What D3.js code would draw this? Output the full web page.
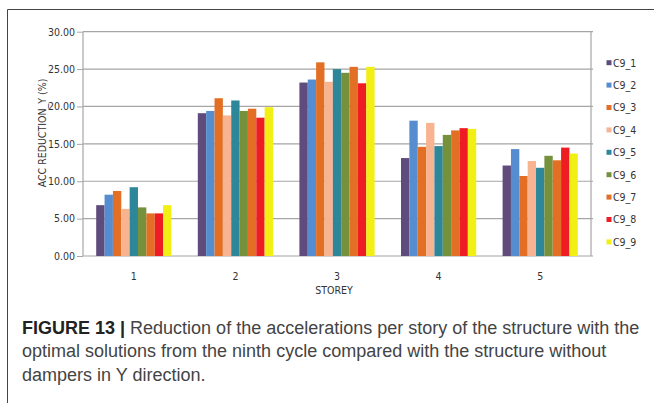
<!DOCTYPE html>
<html>
<head>
<meta charset="utf-8">
<script src="https://cdn.jsdelivr.net/npm/d3@7"></script>
<style>
  html, body { margin: 0; padding: 0; background: #fff; }
  svg { display: block; }
  .tick text { font-family: "Liberation Sans Narrow", "DejaVu Sans Condensed", sans-serif; }
</style>
</head>
<body>
<svg id="chart" width="654" height="403"></svg>
<script>
const storeys = ["1", "2", "3", "4", "5"];
const seriesNames = ["C9_1", "C9_2", "C9_3", "C9_4", "C9_5", "C9_6", "C9_7", "C9_8", "C9_9"];
// one array per series, values for storey 1..5
const c9_1 = [6.8, 19.1, 23.2, 13.1, 12.1];
const c9_2 = [8.2, 19.4, 23.6, 18.1, 14.3];
const c9_3 = [8.7, 21.1, 25.9, 14.6, 10.7];
const c9_4 = [6.3, 18.8, 23.3, 17.8, 12.7];
const c9_5 = [9.2, 20.8, 25.0, 14.7, 11.8];
const c9_6 = [6.5, 19.4, 24.5, 16.2, 13.4];
const c9_7 = [5.7, 19.7, 25.3, 16.8, 12.8];
const c9_8 = [5.7, 18.5, 23.1, 17.1, 14.5];
const c9_9 = [6.8, 19.9, 25.3, 17.0, 13.7];
const seriesValues = [c9_1, c9_2, c9_3, c9_4, c9_5, c9_6, c9_7, c9_8, c9_9];
const seriesColors = ["#5f4b7c", "#568dd0", "#e36f25", "#f8b490", "#2e8799", "#76913c", "#e36f25", "#ee1d24", "#f2ef14"];
const yTicks = [0, 5, 10, 15, 20, 25, 30];

const svg = d3.select("#chart");
const plot = { left: 83, right: 591, top: 31.7, bottom: 256 };
const narrow = `"Liberation Sans Narrow", "DejaVu Sans Condensed", sans-serif`;

// figure frame (only top and left edges visible)
svg.append("path")
    .attr("d", "M7.5,403 V9.5 H654")
    .attr("fill", "none")
    .attr("stroke", "#444")
    .attr("stroke-width", 1);

const x0 = d3.scaleBand(storeys, [plot.left, plot.right])
    .paddingInner(0.26)
    .paddingOuter(0.13);
const x1 = d3.scaleBand(seriesNames, [0, x0.bandwidth()]);
const y = d3.scaleLinear([0, 30], [plot.bottom, plot.top]);

// gridlines + y axis
const yAxis = svg.append("g")
    .attr("transform", `translate(${plot.left},0)`)
    .call(d3.axisLeft(y).tickValues(yTicks).tickFormat(d3.format(".2f")).tickSize(6).tickPadding(2));
yAxis.select(".domain").remove();
yAxis.selectAll(".tick line").attr("stroke", "#a6a6a6");
yAxis.selectAll(".tick text").attr("fill", "#333").attr("font-size", 10.5);

svg.append("g")
    .selectAll("line")
    .data(yTicks)
    .join("line")
    .attr("x1", plot.left)
    .attr("x2", plot.right + 2)
    .attr("y1", d => y(d))
    .attr("y2", d => y(d))
    .attr("stroke", "#a6a6a6")
    .attr("stroke-width", 1.2);

// plot frame verticals
svg.append("line")
    .attr("x1", plot.left).attr("x2", plot.left)
    .attr("y1", plot.top).attr("y2", plot.bottom)
    .attr("stroke", "#a6a6a6").attr("stroke-width", 1.2);
svg.append("line")
    .attr("x1", plot.right).attr("x2", plot.right)
    .attr("y1", plot.top).attr("y2", plot.bottom)
    .attr("stroke", "#a6a6a6").attr("stroke-width", 1.2);

// bars
const groups = svg.append("g")
    .selectAll("g")
    .data(storeys)
    .join("g")
    .attr("transform", d => `translate(${x0(d)},0)`);

groups.selectAll("rect")
    .data((s, i) => seriesNames.map((name, k) => ({ name, value: seriesValues[k][i], color: seriesColors[k] })))
    .join("rect")
    .attr("x", d => x1(d.name))
    .attr("width", x1.bandwidth())
    .attr("y", d => y(d.value))
    .attr("height", d => y(0) - y(d.value))
    .attr("fill", d => d.color);

// x axis labels
const xAxis = svg.append("g")
    .attr("transform", `translate(0,${plot.bottom})`)
    .call(d3.axisBottom(x0).tickSize(0).tickPadding(17));
xAxis.select(".domain").remove();
xAxis.selectAll(".tick text").attr("fill", "#333").attr("font-size", 10.5);

// axis titles
svg.append("text")
    .attr("x", (plot.left + plot.right) / 2 - 3)
    .attr("y", 294)
    .attr("text-anchor", "middle")
    .attr("font-family", narrow)
    .attr("font-size", 10.5)
    .attr("fill", "#333")
    .text("STOREY");

svg.append("text")
    .attr("transform", "translate(46,133) rotate(-90)")
    .attr("text-anchor", "middle")
    .attr("font-family", narrow)
    .attr("font-size", 10.5)
    .attr("fill", "#333")
    .text("ACC REDUCTION_Y (%)");

// legend
const legend = svg.append("g")
    .selectAll("g")
    .data(seriesNames)
    .join("g")
    .attr("transform", (d, i) => `translate(606.5,${62.7 + i * 22.4})`);
legend.append("rect")
    .attr("x", 0).attr("y", -2.5)
    .attr("width", 5).attr("height", 5)
    .attr("fill", (d, i) => seriesColors[i]);
legend.append("text")
    .attr("x", 6.5).attr("y", 3.8)
    .attr("font-family", narrow)
    .attr("font-size", 10.5)
    .attr("fill", "#333")
    .text(d => d);

// caption
const captionLines = [
    "Reduction of the accelerations per story of the structure with the",
    "optimal solutions from the ninth cycle compared with the structure without",
    "dampers in Y direction."
];
const caption = svg.append("g")
    .attr("font-family", "'Liberation Sans', Arial, sans-serif")
    .attr("font-size", 18)
    .attr("fill", "#444");
const first = caption.append("text").attr("x", 22).attr("y", 333.5);
first.append("tspan").attr("font-weight", "bold").attr("fill", "#222").text("FIGURE 13 | ");
first.append("tspan").text(captionLines[0]);
caption.append("text").attr("x", 22).attr("y", 357).text(captionLines[1]);
caption.append("text").attr("x", 22).attr("y", 380.5).text(captionLines[2]);
</script>
</body>
</html>
